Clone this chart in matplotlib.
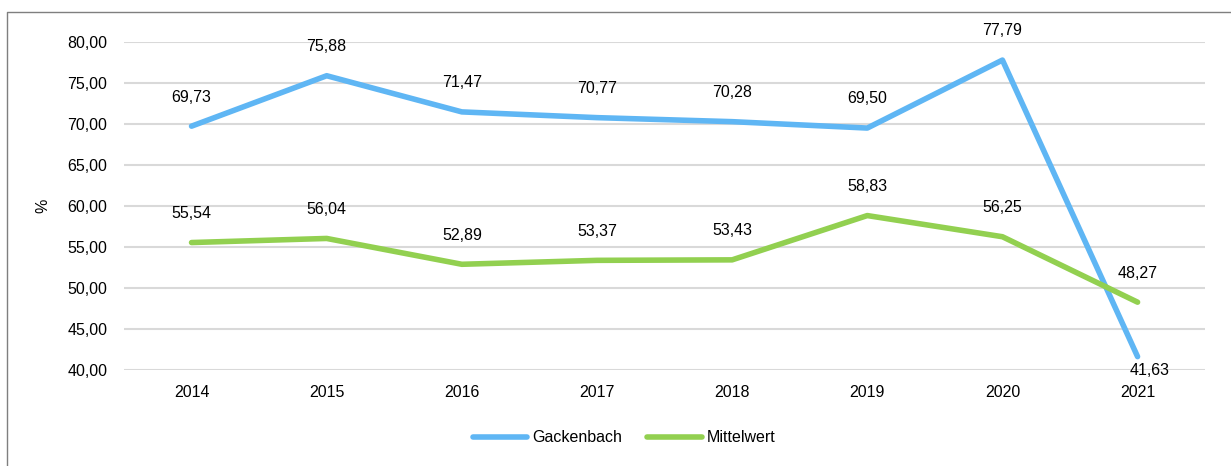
import matplotlib.pyplot as plt
from matplotlib import font_manager
from matplotlib.lines import Line2D

years = ['2014', '2015', '2016', '2017', '2018', '2019', '2020', '2021']
gackenbach = [69.73, 75.88, 71.47, 70.77, 70.28, 69.50, 77.79, 41.63]
mittelwert = [55.54, 56.04, 52.89, 53.37, 53.43, 58.83, 56.25, 48.27]
yticks = [40, 45, 50, 55, 60, 65, 70, 75, 80]

blue = '#5fb6f4'
green = '#92d050'

# narrow Arial-like font if there is one, else plain Liberation Sans
names = {f.name for f in font_manager.fontManager.ttflist}
if 'Liberation Sans Narrow' in names:
    plt.rcParams['font.family'] = ['Liberation Sans Narrow', 'DejaVu Sans']
    fs = 13
else:
    plt.rcParams['font.family'] = ['Liberation Sans', 'DejaVu Sans']
    fs = 11.5


def fmt(v):
    return f'{v:.2f}'.replace('.', ',')


fig = plt.figure(figsize=(12.31, 4.66), dpi=100)
ax = fig.add_axes([0.1007, 0.206, 0.8783, 0.704])

x = list(range(len(years)))
ax.plot(x, gackenbach, color=blue, lw=4, label='Gackenbach', solid_capstyle='round')
ax.plot(x, mittelwert, color=green, lw=4, label='Mittelwert', solid_capstyle='round')

for i, v in enumerate(gackenbach):
    if i == len(years) - 1:
        # last label sits below and a bit to the right of its point
        ax.annotate(fmt(v), (i, v), xytext=(9, -10), textcoords='offset points',
                    ha='center', va='center', fontsize=fs)
    else:
        ax.annotate(fmt(v), (i, v), xytext=(0, 21), textcoords='offset points',
                    ha='center', va='center', fontsize=fs)
for i, v in enumerate(mittelwert):
    ax.annotate(fmt(v), (i, v), xytext=(0, 21), textcoords='offset points',
                ha='center', va='center', fontsize=fs)

ax.set_xlim(-0.5, len(years) - 0.5)
ax.set_ylim(40, 80)
ax.set_xticks(x)
ax.set_xticklabels(years, fontsize=fs)
ax.set_yticks(yticks)
ax.set_yticklabels([fmt(t) for t in yticks], fontsize=fs)
ax.set_ylabel('%', fontsize=fs, labelpad=12)
ax.tick_params(length=0, pad=12)
ax.tick_params(axis='x', pad=11)
ax.grid(axis='y', color='#d9d9d9', lw=1.5)
ax.set_axisbelow(True)
for s in ax.spines.values():
    s.set_visible(False)

ax.legend(loc='center', ncol=2, frameon=False, fontsize=fs, handlelength=3.4,
          columnspacing=1.6, handletextpad=0.3)
leg = ax.get_legend()
leg.set_bbox_to_anchor((0.507, 1 - 438 / 466), transform=fig.transFigure)

# outer chart border
fig.add_artist(Line2D([0.0057, 0.0057, 1.0], [0.0, 0.974, 0.974],
                      transform=fig.transFigure, color='#7f7f7f', lw=1))

fig.savefig('out.png', dpi=100)
